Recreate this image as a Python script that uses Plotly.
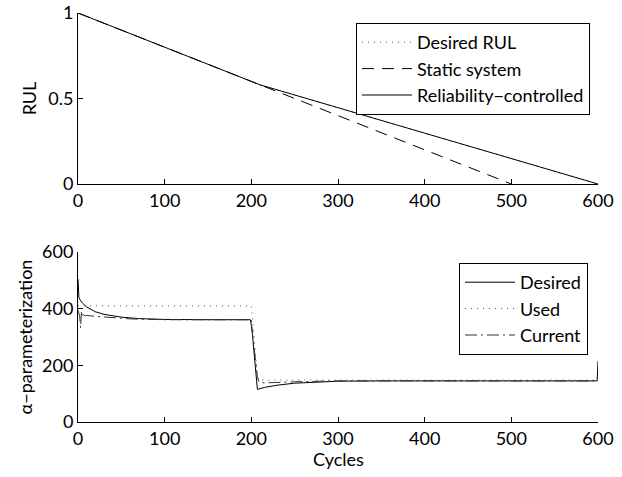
import plotly.graph_objects as go

# ---------------- data ----------------
# Top panel: RUL
rul_desired_x = [210, 600]
rul_desired_y = [0.58, 0.0]
rul_static_x = [0, 210, 500]
rul_static_y = [1.0, 0.58, 0.0]
rul_ctrl_x = [0, 210, 600]
rul_ctrl_y = [1.0, 0.58, 0.0]

# Bottom panel: alpha-parameterization
des_x = [0, 1, 3, 5, 10, 15, 20, 30, 40, 50, 70, 100, 150, 199, 200, 201, 203, 205, 207, 215, 230, 250, 275, 300, 350, 599, 600]
des_y = [505, 440, 428, 420, 406, 396, 389, 380, 374, 370, 365, 362, 361, 361, 340, 320, 250, 170, 115, 122, 130, 137, 141, 144, 145, 145, 215]

used_x = [0, 200, 201, 203, 205, 207, 208, 600]
used_y = [410, 410, 380, 300, 220, 160, 148, 148]

cur_x = [0, 1, 2, 3, 4, 5, 6, 8, 10, 20, 40, 60, 100, 200, 201, 203, 205, 207, 209, 215, 250, 300, 600]
cur_y = [395, 385, 372, 332, 392, 370, 380, 374, 376, 373, 368, 364, 361, 361, 320, 260, 200, 160, 140, 138, 142, 145, 145]

x_ticks = [0, 100, 200, 300, 400, 500, 600]
rul_ticks = [0, 0.5, 1]
rul_tick_labels = ["0", "0.5", "1"]
alpha_ticks = [0, 200, 400, 600]

FONT = "Lato"
FS = 18
W, H = 622, 477

fig = go.Figure()

line = dict(color="black", width=1)

fig.add_trace(go.Scatter(x=rul_desired_x, y=rul_desired_y, mode="lines", name="Desired RUL",
                         line=dict(color="#555", width=1, dash="1px,5px"), xaxis="x", yaxis="y", legend="legend"))
fig.add_trace(go.Scatter(x=rul_static_x, y=rul_static_y, mode="lines", name="Static system",
                         line=dict(color="black", width=1, dash="12px,8px"), xaxis="x", yaxis="y", legend="legend"))
fig.add_trace(go.Scatter(x=rul_ctrl_x, y=rul_ctrl_y, mode="lines", name="Reliability\u2212controlled",
                         line=line, xaxis="x", yaxis="y", legend="legend"))

fig.add_trace(go.Scatter(x=des_x, y=des_y, mode="lines", name="Desired",
                         line=line, xaxis="x2", yaxis="y2", legend="legend2"))
fig.add_trace(go.Scatter(x=used_x, y=used_y, mode="lines", name="Used",
                         line=dict(color="#555", width=1, dash="1px,5px"), xaxis="x2", yaxis="y2", legend="legend2"))
fig.add_trace(go.Scatter(x=cur_x, y=cur_y, mode="lines", name="Current",
                         line=dict(color="#333", width=1, dash="12px,4px,2px,4px"), xaxis="x2", yaxis="y2", legend="legend2"))

xdom = [78 / W, 598 / W]
ax_common = dict(showgrid=False, zeroline=False, showline=True, linecolor="black", linewidth=1,
                 ticks="inside", ticklen=5, tickcolor="black", automargin=False,
                 tickfont=dict(family=FONT, size=FS, color="black"))

fig.update_layout(
    width=W, height=H,
    margin=dict(l=0, r=0, t=0, b=0),
    paper_bgcolor="white", plot_bgcolor="white",
    font=dict(family=FONT, size=FS, color="black"),
    xaxis=dict(domain=xdom, anchor="y", range=[0, 600], tickvals=x_ticks, **ax_common),
    yaxis=dict(domain=[1 - 184 / H, 1 - 13 / H], anchor="x", range=[0, 1], tickvals=rul_ticks,
               ticktext=rul_tick_labels,
               title=dict(text="RUL", standoff=6, font=dict(family=FONT, size=FS)),
               **ax_common),
    xaxis2=dict(domain=xdom, anchor="y2", range=[0, 600], tickvals=x_ticks, **ax_common),
    yaxis2=dict(domain=[1 - 422 / H, 1 - 252 / H], anchor="x2", range=[0, 600], tickvals=alpha_ticks,
                title=dict(text="\u03b1\u2212parameterization", standoff=4, font=dict(family=FONT, size=FS)),
                **ax_common),
    legend=dict(x=590 / W, y=1 - 23 / H, xanchor="right", yanchor="top",
                bordercolor="black", borderwidth=1, bgcolor="white",
                font=dict(family=FONT, size=FS), itemwidth=50, tracegroupgap=0),
    legend2=dict(x=588 / W, y=1 - 263 / H, xanchor="right", yanchor="top",
                 bordercolor="black", borderwidth=1, bgcolor="white",
                 font=dict(family=FONT, size=FS), itemwidth=50, tracegroupgap=0),
    showlegend=True,
    annotations=[dict(text="Cycles", xref="paper", yref="paper",
                      x=(xdom[0] + xdom[1]) / 2, y=1 - 459 / H,
                      xanchor="center", yanchor="middle", showarrow=False,
                      font=dict(family=FONT, size=FS, color="black"))],
)

fig.write_html("out.html")
